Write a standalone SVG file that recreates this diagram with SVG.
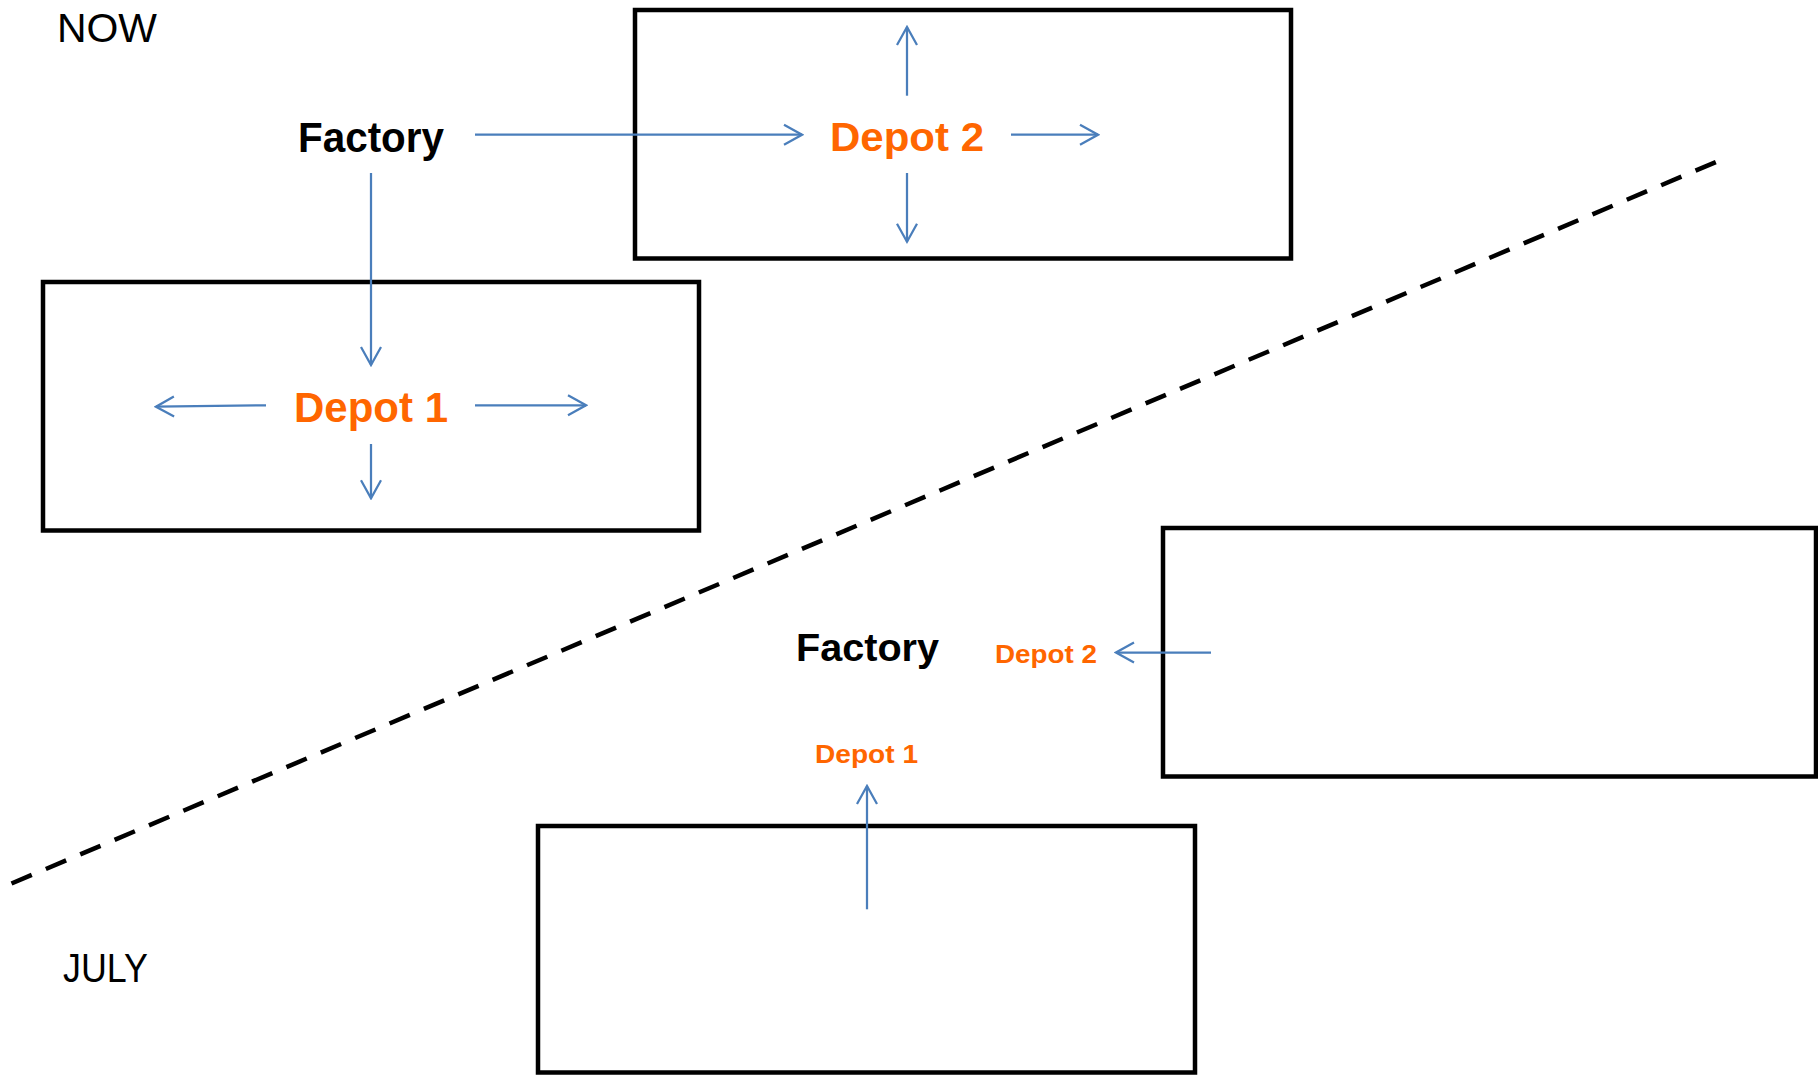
<svg xmlns="http://www.w3.org/2000/svg" width="1818" height="1075" viewBox="0 0 1818 1075">
  <style>
    .box { fill: none; stroke: #000; stroke-width: 4.5; stroke-linejoin: miter; }
    .flow { fill: none; stroke: #4A7EBB; stroke-width: 2.25; marker-end: url(#head); }
    .divider { fill: none; stroke: #000; stroke-width: 4.5; stroke-dasharray: 22 15.32; }
    .period { font-family: "Liberation Sans", Arial, sans-serif; font-size: 40.5px; fill: #000; }
    .factory { font-family: "Liberation Sans", Arial, sans-serif; font-weight: bold; fill: #000; }
    .depot { font-family: "Liberation Sans", Arial, sans-serif; font-weight: bold; fill: #FF6600; }
  </style>
  <defs>
    <marker id="head" viewBox="-21 -12 23 24" markerWidth="23" markerHeight="24" refX="0" refY="0" markerUnits="userSpaceOnUse" orient="auto">
      <path d="M -18 -10 L 0 0 L -18 10" fill="none" stroke="#4A7EBB" stroke-width="2.25"/>
    </marker>
  </defs>

  <rect width="1818" height="1075" fill="#fff"/>

  <!-- period labels -->
  <text class="period" x="57" y="42" textLength="100" lengthAdjust="spacingAndGlyphs">NOW</text>
  <text class="period" x="63" y="982" textLength="85" lengthAdjust="spacingAndGlyphs">JULY</text>

  <!-- divider between the two layouts -->
  <line class="divider" x1="11.5" y1="883.5" x2="1716" y2="162"/>

  <!-- NOW layout -->
  <g id="now-factory">
    <text class="factory" x="298" y="152" font-size="42" textLength="146" lengthAdjust="spacingAndGlyphs">Factory</text>
  </g>
  <g id="now-depot2">
    <rect class="box" x="635" y="10" width="656" height="248.5"/>
    <text class="depot" x="830" y="150.7" font-size="41" textLength="154" lengthAdjust="spacingAndGlyphs">Depot 2</text>
  </g>
  <g id="now-depot1">
    <rect class="box" x="43" y="282" width="656" height="248.5"/>
    <text class="depot" x="294" y="421.7" font-size="42" textLength="154" lengthAdjust="spacingAndGlyphs">Depot 1</text>
  </g>

  <!-- JULY layout -->
  <g id="july-factory">
    <text class="factory" x="796" y="660.7" font-size="38" textLength="143" lengthAdjust="spacingAndGlyphs">Factory</text>
  </g>
  <g id="july-depot2">
    <rect class="box" x="1163" y="528" width="653" height="248.5"/>
    <text class="depot" x="995" y="663" font-size="26" textLength="102" lengthAdjust="spacingAndGlyphs">Depot 2</text>
  </g>
  <g id="july-depot1">
    <rect class="box" x="538" y="826" width="657" height="246.5"/>
    <text class="depot" x="815" y="762.7" font-size="26" textLength="103" lengthAdjust="spacingAndGlyphs">Depot 1</text>
  </g>

  <!-- connectors -->
  <g id="connectors">
    <!-- factory to depots -->
    <line class="flow" x1="475" y1="134.7" x2="802" y2="134.7"/>
    <line class="flow" x1="371" y1="173" x2="371" y2="365"/>
    <!-- depot 2 outbound -->
    <line class="flow" x1="907" y1="95.7" x2="907" y2="27"/>
    <line class="flow" x1="907" y1="173" x2="907" y2="241.7"/>
    <line class="flow" x1="1011" y1="134.7" x2="1098" y2="134.7"/>
    <!-- depot 1 outbound -->
    <line class="flow" x1="266" y1="405.3" x2="156" y2="406.7"/>
    <line class="flow" x1="475" y1="405.3" x2="586" y2="405.3"/>
    <line class="flow" x1="371" y1="444" x2="371" y2="498.3"/>
    <!-- July flows -->
    <line class="flow" x1="1211" y1="652.5" x2="1116" y2="652.5"/>
    <line class="flow" x1="867" y1="909.3" x2="867" y2="786"/>
  </g>
</svg>
